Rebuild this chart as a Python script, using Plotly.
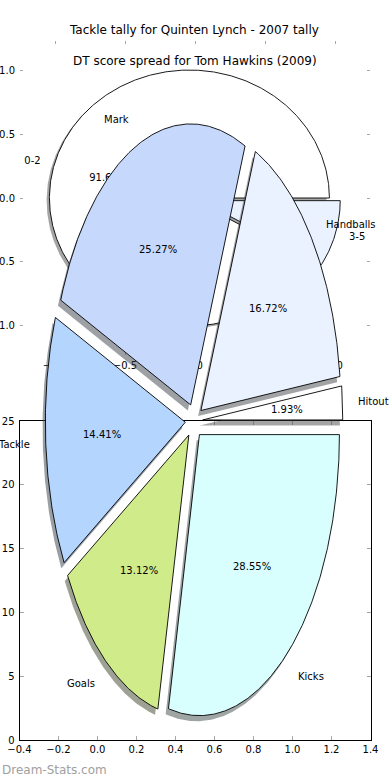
import numpy as np
import plotly.graph_objects as go

# ---------------- data ----------------
main_labels = ["Hitout", "Handballs", "Mark", "Tackle", "Goals", "Kicks"]
main_pct = [1.93, 16.72, 25.27, 14.41, 13.12, 28.55]
main_colors = ["#ffffff", "#eaf1ff", "#c6d9fd", "#b4d5fe", "#d0eb8a", "#d8fefe"]
main_explode = [0.062, 0.062, 0.062, 0.062, 0.062, 0.062]

dt_labels = ["0-2", "3-5"]
dt_pct = [91.67, 8.33]
dt_colors = ["#ffffff", "#eaf1ff"]
dt_explode = [0.0, 0.08]

title_top = "Tackle tally for Quinten Lynch - 2007 tally"
title_dt = "DT score spread for Tom Hawkins (2009)"
watermark = "Dream-Stats.com"

a_xticks = [-0.4, -0.2, 0.0, 0.2, 0.4, 0.6, 0.8, 1.0, 1.2, 1.4]
a_xticktext = ["\u22120.4", "\u22120.2", "0.0", "0.2", "0.4", "0.6", "0.8", "1.0", "1.2", "1.4"]
a_yticks = [0, 5, 10, 15, 20, 25]
a_yticktext = ["0", "5", "10", "15", "20", "25"]
b_ticks = [-1.0, -0.5, 0.0, 0.5, 1.0]
b_ticktext = ["\u22121.0", "\u22120.5", "0.0", "0.5", "1.0"]

FONT = "DejaVu Sans"
W, H = 390, 780


def hex_rgb(h):
    h = h.lstrip("#")
    return tuple(int(h[i:i + 2], 16) for i in (0, 2, 4))


def wedges(pcts, explode, center):
    out = []
    start = 0.0
    for p, e in zip(pcts, explode):
        t1 = start
        t2 = start + 360.0 * p / 100.0
        mid = np.radians((t1 + t2) / 2)
        cx = center[0] + e * np.cos(mid)
        cy = center[1] + e * np.sin(mid)
        th = np.radians(np.linspace(t1, t2, max(int((t2 - t1) * 2), 4)))
        xs = np.concatenate([[cx], cx + np.cos(th), [cx]])
        ys = np.concatenate([[cy], cy + np.sin(th), [cy]])
        out.append(dict(xs=xs, ys=ys, mid=mid, cx=cx, cy=cy))
        start = t2
    return out


fig = go.Figure()


def add_pie(pcts, colors, explode, center, xa, ya):
    ws = wedges(pcts, explode, center)
    # shadows first (below all wedges)
    for w, c in zip(ws, colors):
        r, g, b = hex_rgb(c)
        fig.add_trace(go.Scatter(
            x=w["xs"] - 0.02, y=w["ys"] - 0.02, mode="lines", fill="toself",
            fillcolor="rgba(%d,%d,%d,0.5)" % (int(r * 0.3), int(g * 0.3), int(b * 0.3)),
            line=dict(width=0), hoverinfo="skip", showlegend=False,
            xaxis=xa, yaxis=ya))
    for w, c in zip(ws, colors):
        fig.add_trace(go.Scatter(
            x=w["xs"], y=w["ys"], mode="lines", fill="toself", fillcolor=c,
            line=dict(color="black", width=0.9), hoverinfo="skip", showlegend=False,
            xaxis=xa, yaxis=ya))
    return ws


# ---- subplot 1 (x/y): upper "DT score spread" axes with white pie ----
dt_ws = add_pie(dt_pct, dt_colors, dt_explode, (-0.04, 0.0), "x", "y")
for w, lab, p in zip(dt_ws, dt_labels, dt_pct):
    c, s = np.cos(w["mid"]), np.sin(w["mid"])
    fig.add_trace(go.Scatter(
        x=[w["cx"] + 1.1 * c], y=[w["cy"] + 1.1 * s], mode="text", text=[lab],
        textposition="middle right" if c > 0 else "middle left",
        textfont=dict(family=FONT, size=10, color="black"),
        cliponaxis=False, hoverinfo="skip", showlegend=False, xaxis="x", yaxis="y"))
    fig.add_trace(go.Scatter(
        x=[w["cx"] + 0.6 * c], y=[w["cy"] + 0.6 * s], mode="text", text=["%.2f%%" % p],
        textposition="middle center",
        textfont=dict(family=FONT, size=10, color="black"),
        cliponaxis=False, hoverinfo="skip", showlegend=False, xaxis="x", yaxis="y"))

# ---- subplot 2 (x2/y2): lower framed axes (empty) ----
fig.add_trace(go.Scatter(x=[None], y=[None], mode="markers", showlegend=False,
                         hoverinfo="skip", xaxis="x2", yaxis="y2"))

# ---- subplot 3 (x3/y3): main exploded pie, drawn on top ----
main_ws = add_pie(main_pct, main_colors, main_explode, (0.0, 0.0), "x3", "y3")

annotations = []
for w, lab, p in zip(main_ws, main_labels, main_pct):
    c, s = np.cos(w["mid"]), np.sin(w["mid"])
    annotations.append(dict(
        x=w["cx"] + 1.1 * c, y=w["cy"] + 1.1 * s, xref="x3", yref="y3", text=lab,
        showarrow=False, xanchor="left" if c > 0 else "right", yanchor="middle",
        font=dict(family=FONT, size=10, color="black")))
    annotations.append(dict(
        x=w["cx"] + 0.6 * c, y=w["cy"] + 0.6 * s, xref="x3", yref="y3",
        text="%.2f%%" % p, showarrow=False, xanchor="center", yanchor="middle",
        font=dict(family=FONT, size=10, color="black")))

annotations += [
    dict(x=194 / W, y=1 - 30 / H, xref="paper", yref="paper", text=title_top,
         showarrow=False, xanchor="center", yanchor="middle",
         font=dict(family=FONT, size=12, color="black")),
    dict(x=195 / W, y=1 - 61 / H, xref="paper", yref="paper", text=title_dt,
         showarrow=False, xanchor="center", yanchor="middle",
         font=dict(family=FONT, size=12, color="black")),
    dict(x=0, y=1 - 770 / H, xref="paper", yref="paper", text=watermark,
         showarrow=False, xanchor="left", yanchor="middle",
         font=dict(family=FONT, size=12, color="#a0a0a0")),
]

tickgrey = "#a8a8a8"
fig.update_layout(
    width=W, height=H, margin=dict(l=0, r=0, t=0, b=0, autoexpand=False),
    paper_bgcolor="white", plot_bgcolor="rgba(0,0,0,0)",
    showlegend=False, annotations=annotations, hovermode=False,
    font=dict(family=FONT, size=10, color="black"),
    # upper axes
    xaxis=dict(domain=[20 / W, 370 / W], range=[-1.25, 1.25], anchor="y",
               automargin=False, showgrid=False, zeroline=False, showline=False,
               ticks="inside", ticklen=3, tickcolor=tickgrey, mirror="ticks",
               tickvals=b_ticks, ticktext=b_ticktext, ticklabelstandoff=3,
               tickfont=dict(family=FONT, size=10, color="black")),
    yaxis=dict(domain=[1 - 355.4 / H, 1 - 40.6 / H], range=[-1.23, 1.23], anchor="x",
               automargin=False, showgrid=False, zeroline=False, showline=False,
               ticks="inside", ticklen=3, tickcolor=tickgrey, mirror="ticks",
               tickvals=b_ticks, ticktext=b_ticktext, ticklabelstandoff=4,
               tickfont=dict(family=FONT, size=10, color="black")),
    # lower framed axes
    xaxis2=dict(domain=[19.5 / W, 370.5 / W], range=[-0.4, 1.4], anchor="y2",
                automargin=False, showgrid=False, zeroline=False, showline=True,
                linecolor="black", linewidth=1, mirror="ticks", ticks="inside",
                ticklen=4, tickcolor=tickgrey, tickvals=a_xticks, ticktext=a_xticktext,
                tickfont=dict(family=FONT, size=10, color="black")),
    yaxis2=dict(domain=[1 - 740 / H, 1 - 421 / H], range=[0, 25], anchor="x2",
                automargin=False, showgrid=False, zeroline=False, showline=True,
                linecolor="black", linewidth=1, mirror="ticks", ticks="inside",
                ticklen=4, tickcolor=tickgrey, tickvals=a_yticks, ticktext=a_yticktext,
                ticklabelstandoff=2,
                tickfont=dict(family=FONT, size=10, color="black")),
    # hidden axes for the main pie
    xaxis3=dict(domain=[0, 1], range=[-194 / 140, (W - 194) / 140], anchor="y3",
                automargin=False, visible=False, fixedrange=True),
    yaxis3=dict(domain=[0, 1], range=[(421 - H) / 281, 421 / 281], anchor="x3",
                automargin=False, visible=False, fixedrange=True),
)

fig.write_html("out.html", config={"displayModeBar": False, "staticPlot": True},
               post_script="document.body.style.margin='0';document.body.style.overflow='hidden';")
